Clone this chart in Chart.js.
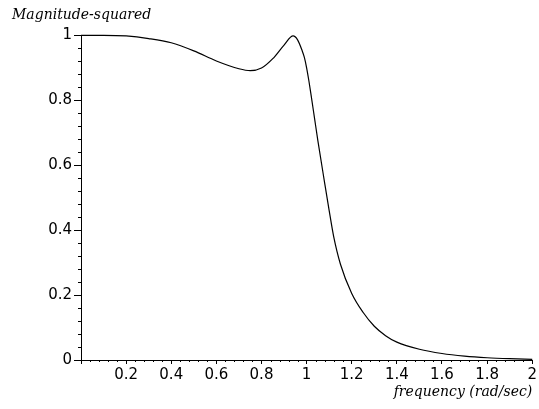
<!DOCTYPE html>
<html>
<head>
<meta charset="utf-8">
<script src="https://cdn.jsdelivr.net/npm/chart.js@4/dist/chart.umd.min.js"></script>
<style>
  html, body { margin: 0; padding: 0; background: #fff; }
  canvas { display: block; }
</style>
</head>
<body>
<canvas id="c" width="539" height="409"></canvas>
<script>
// Frequency values (rad/sec)
const frequency = [0, 0.1, 0.2, 0.3, 0.4, 0.5, 0.6, 0.7, 0.75, 0.8, 0.85, 0.9, 0.94, 0.96, 0.98, 0.99,
  1.0, 1.01, 1.02, 1.035, 1.05, 1.08, 1.1, 1.12, 1.15, 1.2, 1.25, 1.3, 1.35, 1.4, 1.5, 1.6, 1.7, 1.8, 1.9, 2.0];
// Magnitude-squared values
const magnitudeSquared = [1.0, 1.0, 0.998, 0.990, 0.977, 0.952, 0.921, 0.897, 0.891, 0.899, 0.928, 0.970, 0.998, 0.986, 0.953, 0.932,
  0.90, 0.86, 0.815, 0.745, 0.675, 0.545, 0.46, 0.38, 0.295, 0.205, 0.147, 0.104, 0.075, 0.055, 0.033, 0.020, 0.012, 0.007, 0.004, 0.002];
// Axis tick values
const xTicks = [0.2, 0.4, 0.6, 0.8, 1, 1.2, 1.4, 1.6, 1.8, 2];
const yTicks = [0, 0.2, 0.4, 0.6, 0.8, 1];
const yTitle = 'Magnitude-squared';
const xTitle = 'frequency (rad/sec)';

const points = frequency.map((f, i) => ({ x: f, y: magnitudeSquared[i] }));

const minorTicks = {
  id: 'minorTicks',
  afterDraw(chart) {
    const ctx = chart.ctx;
    const xs = chart.scales.x, ys = chart.scales.y;
    const area = chart.chartArea;
    ctx.save();
    ctx.strokeStyle = '#000';
    ctx.lineWidth = 1;
    ctx.beginPath();
    for (let i = 1; i < 50; i++) {
      if (i % 5 === 0) continue;
      const px = Math.round(xs.getPixelForValue(i * 0.04)) + 0.5;
      ctx.moveTo(px, area.bottom);
      ctx.lineTo(px, area.bottom + 2);
    }
    for (let j = 1; j < 25; j++) {
      if (j % 5 === 0) continue;
      const py = Math.round(ys.getPixelForValue(j * 0.04)) + 0.5;
      ctx.moveTo(area.left - 3, py);
      ctx.lineTo(area.left, py);
    }
    ctx.stroke();
    ctx.restore();
  }
};

const fmt = v => String(Math.round(v * 10) / 10);

new Chart(document.getElementById('c'), {
  type: 'scatter',
  data: {
    datasets: [{
      data: points,
      showLine: true,
      borderColor: '#000',
      borderWidth: 1.2,
      pointRadius: 0,
      cubicInterpolationMode: 'monotone',
      clip: 6
    }]
  },
  options: {
    responsive: false,
    animation: false,
    layout: { padding: { left: 12, right: 6, top: 0, bottom: 0 } },
    plugins: {
      legend: { display: false },
      tooltip: { enabled: false },
      title: {
        display: true,
        text: yTitle,
        align: 'start',
        color: '#000',
        font: { family: 'DejaVu Serif', style: 'italic', size: 14, weight: 'normal' },
        padding: { top: 7, bottom: 11.5 }
      }
    },
    scales: {
      x: {
        type: 'linear',
        min: 0,
        max: 2,
        afterFit: s => { s.height = 49; },
        afterBuildTicks: s => { s.ticks = [0].concat(xTicks).map(v => ({ value: v })); },
        ticks: {
          color: '#000',
          font: { family: 'DejaVu Sans', size: 15 },
          padding: 2,
          maxRotation: 0,
          autoSkip: false,
          callback: v => (v === 0 ? '' : fmt(v))
        },
        grid: { drawOnChartArea: false, tickLength: 4, tickColor: '#000' },
        border: { color: '#000', width: 1 },
        title: {
          display: true,
          text: xTitle,
          align: 'end',
          color: '#000',
          font: { family: 'DejaVu Serif', style: 'italic', size: 14 },
          padding: { top: 0, bottom: 8.5 }
        }
      },
      y: {
        type: 'linear',
        min: 0,
        max: 1,
        afterFit: s => { s.width = 69; },
        afterBuildTicks: s => { s.ticks = yTicks.map(v => ({ value: v })); },
        ticks: {
          color: '#000',
          font: { family: 'DejaVu Sans', size: 15 },
          padding: 2,
          autoSkip: false,
          callback: v => fmt(v)
        },
        grid: { drawOnChartArea: false, tickLength: 7, tickColor: '#000' },
        border: { color: '#000', width: 1 }
      }
    }
  },
  plugins: [minorTicks]
});
</script>
</body>
</html>
